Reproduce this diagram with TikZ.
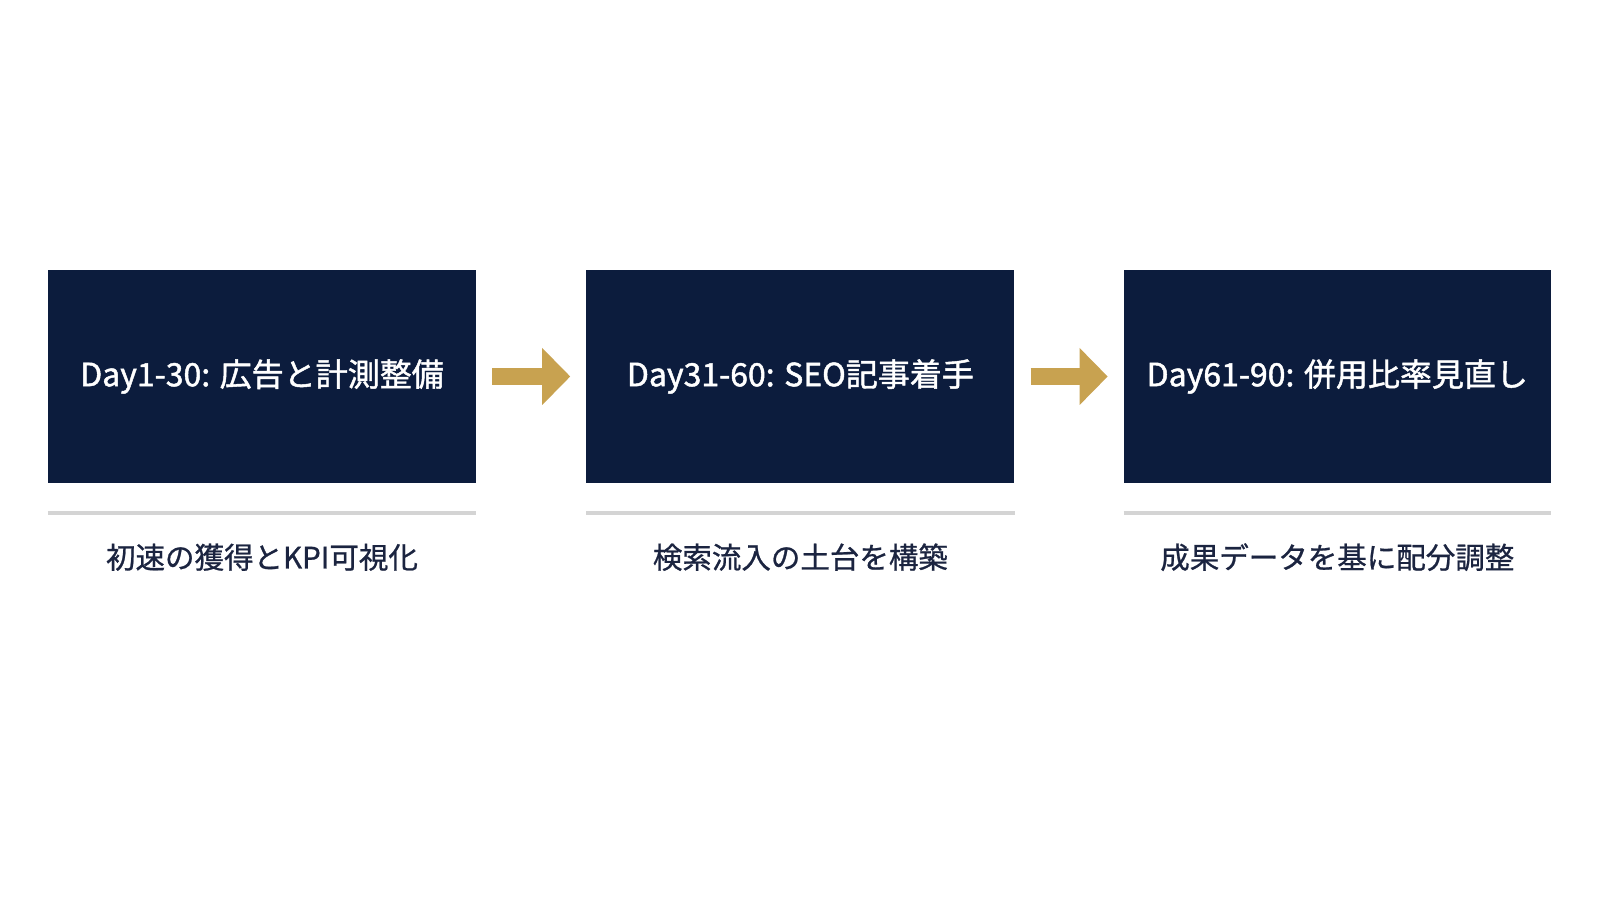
\documentclass[tikz,border=0pt]{standalone}
\usepackage{fontspec}
\setmainfont{Noto Sans CJK JP}
\newfontfamily\phasefont{Noto Sans CJK JP}[FakeBold=1.4]
\newfontfamily\notefont{Noto Sans CJK JP}[FakeBold=0.8]
\usepackage{tikz}
\usetikzlibrary{positioning,arrows.meta}

\definecolor{navy}{HTML}{0C1C3D}
\definecolor{gold}{HTML}{C8A250}
\definecolor{rulegray}{HTML}{D4D4D4}
\definecolor{subnavy}{HTML}{1B2440}

\tikzset{
	phase/.style={fill=navy, draw=none, minimum width=428pt, minimum height=213pt,
		inner sep=0pt, text=white, font=\phasefont\fontsize{32}{38}\selectfont},
	subline/.style={text=subnavy, font=\notefont\fontsize{29.5}{35}\selectfont, inner sep=0pt},
	rule/.style={draw=rulegray, line width=4pt},
	flow/.style={draw=gold, line width=17pt,
		-{Triangle[length=28pt,width=57pt,line width=0pt]}}
}

\begin{document}
\begin{tikzpicture}[x=1pt, y=1pt]
			%%%%% FRAME %%%%%
			\useasboundingbox[fill=white] (0, 0) rectangle (1600, 900);
			
			%%%%% PHASES %%%%%
			\node[phase] (p1) at (262, 523.5) {Day1-30: 広告と計測整備};
			\node[phase, right=110pt of p1] (p2) {Day31-60: SEO記事着手};
			\node[phase, minimum width=427pt, right=109pt of p2] (p3) {Day61-90: 併用比率見直し};
			
			%%%%% ARROWS %%%%%
			\draw[flow] ([xshift=16pt]p1.east) -- ([xshift=-16pt]p2.west);
			\draw[flow] ([xshift=16pt]p2.east) -- ([xshift=-16pt]p3.west);
			
			%%%%% RULES AND NOTES %%%%%
			\draw[rule] ([yshift=-30pt]p1.south west) -- ([yshift=-30pt]p1.south east);
			\draw[rule] ([yshift=-30pt]p2.south west) -- ([yshift=-30pt]p2.south east);
			\draw[rule] ([yshift=-30pt]p3.south west) -- ([yshift=-30pt]p3.south east);
			
			\node[subline] (n1) at ([yshift=-74pt]p1.south) {初速の獲得とKPI可視化};
			\node[subline] (n2) at ([yshift=-74pt]p2.south) {検索流入の土台を構築};
			\node[subline] (n3) at ([yshift=-74pt]p3.south) {成果データを基に配分調整};
			
			%%%%% END %%%%%
\end{tikzpicture}
\end{document}
